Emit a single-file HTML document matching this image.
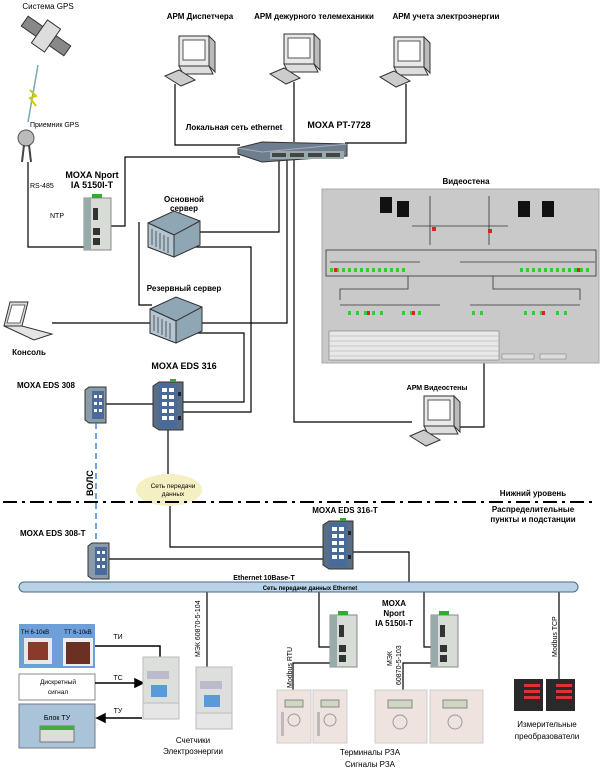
<!DOCTYPE html>
<html><head><meta charset="utf-8"><style>
html,body{margin:0;padding:0;background:#fff}
svg{display:block}
text{font-family:"Liberation Sans",sans-serif;fill:#000}
.b{font-weight:bold}
</style></head><body>
<svg width="600" height="771" viewBox="0 0 600 771" xmlns="http://www.w3.org/2000/svg">
<defs>
<g id="pc">
  <rect x="14" y="0" width="30" height="30" fill="#e8e8e8" stroke="#333"/>
  <rect x="18" y="4" width="22" height="20" fill="#fff" stroke="#555"/>
  <path d="M14 30 L44 30 L48 38 L18 38 Z" fill="#ddd" stroke="#333"/>
  <path d="M44 0 L50 6 L50 36 L44 30 Z" fill="#bbb" stroke="#333"/>
  <path d="M0 40 L14 34 L30 44 L16 50 Z" fill="#ccc" stroke="#333"/>
</g>
<g id="srv">
  <path d="M0 12 L26 0 L52 10 L52 34 L26 46 L0 36 Z" fill="#8fa6b4" stroke="#333"/>
  <path d="M0 12 L26 24 L52 10" fill="none" stroke="#333"/>
  <path d="M26 24 L26 46" stroke="#333"/>
  <path d="M0 12 L26 24 L26 46 L0 36 Z" fill="#b4c6d2" stroke="#333"/>
  <path d="M4 18 v16 M8 20 v16 M12 22 v16 M16 24 v16 M20 26 v16" stroke="#555"/>
</g>
<g id="eds">
  <path d="M0 4 L6 0 L30 0 L30 48 L6 48 L0 44 Z" fill="#5a6d86" stroke="#333"/>
  <rect x="6" y="2" width="18" height="44" fill="#4a6a9a"/>
  <g fill="#fff"><rect x="9" y="6" width="5" height="4"/><rect x="16" y="6" width="5" height="4"/><rect x="9" y="13" width="5" height="4"/><rect x="16" y="13" width="5" height="4"/><rect x="9" y="20" width="5" height="4"/><rect x="16" y="20" width="5" height="4"/><rect x="9" y="27" width="5" height="4"/><rect x="16" y="27" width="5" height="4"/><rect x="9" y="34" width="5" height="4"/><rect x="16" y="34" width="5" height="4"/></g>
  <rect x="25" y="10" width="3" height="4" fill="#222"/><rect x="25" y="34" width="3" height="4" fill="#222"/>
  <rect x="17" y="-3" width="6" height="3" fill="#3a3"/>
</g>
<g id="eds8">
  <path d="M0 3 L4 0 L21 0 L21 36 L4 36 L0 33 Z" fill="#8a9aa8" stroke="#333"/>
  <rect x="7" y="4" width="12" height="28" fill="#4a6a9a"/>
  <g fill="#fff"><rect x="9" y="8" width="3" height="3"/><rect x="14" y="8" width="3" height="3"/><rect x="9" y="15" width="3" height="3"/><rect x="14" y="15" width="3" height="3"/><rect x="9" y="22" width="3" height="3"/><rect x="14" y="22" width="3" height="3"/></g>
</g>
<g id="nport">
  <rect x="0" y="4" width="27" height="52" fill="#d8dcd6" stroke="#888"/>
  <rect x="0" y="4" width="7" height="52" fill="#9aa" />
  <rect x="8" y="0" width="10" height="4" fill="#3a3"/>
  <rect x="9" y="14" width="5" height="12" fill="#333"/>
  <rect x="9" y="34" width="7" height="7" fill="#333"/><rect x="9" y="44" width="7" height="7" fill="#333"/>
</g>
<g id="relay">
  <rect x="0" y="0" width="34" height="53" fill="#efe3e0" stroke="#ccc"/>
  <rect x="8" y="10" width="18" height="7" fill="#cfd7c0" stroke="#888"/>
  <circle cx="17" cy="30" r="6" fill="none" stroke="#999"/>
  <rect x="4" y="22" width="3" height="24" fill="#bbb"/>
</g>
<g id="meter">
  <rect x="0" y="0" width="36" height="62" fill="#dcdfdc" stroke="#bbb"/>
  <rect x="4" y="14" width="22" height="8" fill="#bbc"/>
  <rect x="8" y="28" width="16" height="12" fill="#5a9ad8"/>
  <rect x="0" y="46" width="36" height="16" fill="#e6e6e6" stroke="#bbb"/>
</g>
</defs>

<!-- top labels -->
<text x="48" y="9" font-size="8" text-anchor="middle">Система GPS</text>
<text x="200" y="19" font-size="8" class="b" text-anchor="middle">АРМ Диспетчера</text>
<text x="314" y="19" font-size="8" class="b" text-anchor="middle">АРМ дежурного телемеханики</text>
<text x="446" y="19" font-size="8" class="b" text-anchor="middle">АРМ учета электроэнергии</text>

<!-- satellite -->
<g transform="translate(46,36) rotate(35)">
  <rect x="-26" y="-6" width="52" height="12" fill="#888" stroke="#333"/>
  <rect x="-8" y="-14" width="16" height="28" fill="#ddd" stroke="#333"/>
</g>
<line x1="38" y1="65" x2="28" y2="122" stroke="#7aa" stroke-width="1.5"/>
<path d="M30 90 L36 96 L30 98 L36 106" stroke="#cc0" stroke-width="2" fill="none"/>
<text x="30" y="127" font-size="7">Приемник GPS</text>
<circle cx="26" cy="138" r="8" fill="#bbb" stroke="#555"/>
<line x1="24" y1="145" x2="22" y2="162" stroke="#444" stroke-width="2"/><line x1="29" y1="145" x2="31" y2="162" stroke="#444" stroke-width="2"/>
<text x="30" y="188" font-size="7" fill="#333">RS-485</text>
<text x="50" y="218" font-size="7" fill="#333">NTP</text>
<text x="92" y="178" font-size="9" class="b" text-anchor="middle">MOXA Nport</text>
<text x="92" y="188" font-size="9" class="b" text-anchor="middle">IA 5150I-T</text>

<!-- computers -->
<use href="#pc" x="165" y="36"/>
<use href="#pc" x="270" y="34"/>
<use href="#pc" x="380" y="37"/>

<g stroke="#000" stroke-width="1.2" fill="none">
  <polyline points="175,84 175,145 240,145"/>
  <polyline points="294,82 294,142"/>
  <polyline points="406,84 406,143 345,143"/>
  <polyline points="28,162 28,247 88,247"/>
  <polyline points="104,226 125,226 125,157 240,157"/>
  <polyline points="200,232 279,232 279,160"/>
  <polyline points="190,247 251,247 251,412 183,412"/>
  <polyline points="139,222 139,305 152,305"/>
  <polyline points="200,323 287,323 287,160"/>
  <polyline points="192,333 244,333 244,402 183,402"/>
  <polyline points="52,323 150,323"/>
  <polyline points="294,160 294,422 412,422"/>
  <polyline points="484,363 484,427 460,427"/>
  <polyline points="100,404 160,404"/>
  <polyline points="168,430 168,474"/>
  <polyline points="170,505 170,547 325,547"/>
  <polyline points="100,559 325,559"/>
  <polyline points="353,552 409,552 409,582"/>
  <polyline points="207,592 207,667"/>
  <polyline points="319,592 319,647 333,647"/>
  <polyline points="424,592 424,647 435,647"/>
  <polyline points="333,663 293,663 293,690"/>
  <polyline points="435,663 403,663 403,690"/>
  <polyline points="559,592 559,680"/>
</g>

<!-- switch PT-7728 -->
<text x="234" y="130" font-size="8" class="b" text-anchor="middle">Локальная сеть ethernet</text>
<text x="339" y="128" font-size="9" class="b" text-anchor="middle">MOXA PT-7728</text>
<path d="M238 148 L262 142 L347 144 L347 156 L262 162 L238 154 Z" fill="#6e7e8e" stroke="#333"/>
<path d="M238 148 L262 152 L347 144" fill="none" stroke="#aab"/>
<rect x="270" y="151" width="74" height="8" fill="#9aa" />
<g fill="#444"><rect x="272" y="153" width="14" height="4"/><rect x="290" y="153" width="14" height="4"/><rect x="308" y="153" width="14" height="4"/><rect x="326" y="153" width="14" height="4"/></g>

<use href="#nport" x="84" y="194"/>

<!-- servers -->
<text x="184" y="202" font-size="8" class="b" text-anchor="middle">Основной</text>
<text x="184" y="211" font-size="8" class="b" text-anchor="middle">сервер</text>
<use href="#srv" x="148" y="211"/>
<text x="184" y="291" font-size="8" class="b" text-anchor="middle">Резервный сервер</text>
<use href="#srv" x="150" y="297"/>

<!-- laptop -->
<path d="M10 302 L28 302 L22 326 L4 326 Z" fill="#ddd" stroke="#333"/>
<path d="M12 305 L25 305 L20 323 L7 323 Z" fill="#fff" stroke="#666"/>
<path d="M4 326 L22 326 L52 334 L34 340 Z" fill="#e4e4e4" stroke="#333"/>
<text x="29" y="355" font-size="8" class="b" text-anchor="middle">Консоль</text>

<!-- video wall -->
<text x="466" y="184" font-size="8" class="b" text-anchor="middle">Видеостена</text>
<rect x="322" y="189" width="277" height="174" fill="#c9c9c9" stroke="#aaa"/>
<g stroke="#333" stroke-width="0.8" fill="none">
  <line x1="430" y1="196" x2="430" y2="245"/><line x1="489" y1="196" x2="489" y2="245"/>
  <line x1="412" y1="226" x2="508" y2="226"/>
  <rect x="326" y="250" width="270" height="26"/>
  <line x1="330" y1="262" x2="420" y2="262"/><line x1="460" y1="262" x2="595" y2="262"/>
  <line x1="340" y1="305" x2="440" y2="305"/><line x1="470" y1="305" x2="580" y2="305"/>
  <polyline points="408,276 408,289 340,289 340,300"/><polyline points="493,276 493,289 580,289 580,300"/>
</g>
<g fill="#111"><rect x="380" y="197" width="12" height="16"/><rect x="397" y="201" width="12" height="16"/><rect x="518" y="201" width="12" height="16"/><rect x="542" y="201" width="12" height="16"/></g>
<g fill="#4c4">
  <rect x="328" y="270" width="264" height="4" fill="none"/>
</g>
<g fill="#3c3">
  <rect x="330" y="268" width="3" height="4"/><rect x="336" y="268" width="3" height="4"/><rect x="342" y="268" width="3" height="4"/><rect x="348" y="268" width="3" height="4"/><rect x="354" y="268" width="3" height="4"/><rect x="360" y="268" width="3" height="4"/><rect x="366" y="268" width="3" height="4"/><rect x="372" y="268" width="3" height="4"/><rect x="378" y="268" width="3" height="4"/><rect x="384" y="268" width="3" height="4"/><rect x="390" y="268" width="3" height="4"/><rect x="396" y="268" width="3" height="4"/><rect x="402" y="268" width="3" height="4"/>
  <rect x="520" y="268" width="3" height="4"/><rect x="526" y="268" width="3" height="4"/><rect x="532" y="268" width="3" height="4"/><rect x="538" y="268" width="3" height="4"/><rect x="544" y="268" width="3" height="4"/><rect x="550" y="268" width="3" height="4"/><rect x="556" y="268" width="3" height="4"/><rect x="562" y="268" width="3" height="4"/><rect x="568" y="268" width="3" height="4"/><rect x="574" y="268" width="3" height="4"/><rect x="580" y="268" width="3" height="4"/><rect x="586" y="268" width="3" height="4"/>
  <rect x="348" y="311" width="3" height="4"/><rect x="356" y="311" width="3" height="4"/><rect x="364" y="311" width="3" height="4"/><rect x="372" y="311" width="3" height="4"/><rect x="380" y="311" width="3" height="4"/><rect x="402" y="311" width="3" height="4"/><rect x="410" y="311" width="3" height="4"/><rect x="418" y="311" width="3" height="4"/>
  <rect x="472" y="311" width="3" height="4"/><rect x="480" y="311" width="3" height="4"/><rect x="524" y="311" width="3" height="4"/><rect x="532" y="311" width="3" height="4"/><rect x="540" y="311" width="3" height="4"/><rect x="556" y="311" width="3" height="4"/><rect x="564" y="311" width="3" height="4"/>
</g>
<g fill="#d22"><rect x="334" y="268" width="3" height="4"/><rect x="577" y="268" width="3" height="4"/><rect x="367" y="311" width="3" height="4"/><rect x="412" y="311" width="3" height="4"/><rect x="542" y="311" width="3" height="4"/><rect x="432" y="227" width="4" height="4"/><rect x="488" y="229" width="4" height="4"/></g>
<rect x="329" y="331" width="170" height="29" fill="#e8e8e8" stroke="#777" stroke-width="0.6"/>
<g stroke="#aaa" stroke-width="0.5"><line x1="329" y1="336" x2="499" y2="336"/><line x1="329" y1="341" x2="499" y2="341"/><line x1="329" y1="346" x2="499" y2="346"/><line x1="329" y1="351" x2="499" y2="351"/><line x1="329" y1="356" x2="499" y2="356"/></g>
<rect x="502" y="354" width="32" height="5" fill="#ddd" stroke="#777" stroke-width="0.5"/>
<rect x="540" y="354" width="26" height="5" fill="#ddd" stroke="#777" stroke-width="0.5"/>

<text x="437" y="390" font-size="7" class="b" text-anchor="middle">АРМ Видеостены</text>
<use href="#pc" x="410" y="396"/>

<text x="184" y="369" font-size="9" class="b" text-anchor="middle">MOXA EDS 316</text>
<text x="17" y="388" font-size="8" class="b">MOXA EDS 308</text>
<use href="#eds8" x="85" y="387"/>
<use href="#eds" x="153" y="382"/>

<!-- VOLS -->
<line x1="96" y1="423" x2="96" y2="542" stroke="#3a8ad8" stroke-width="1.5" stroke-dasharray="6,4"/>
<text x="0" y="0" font-size="9" class="b" transform="translate(93,496) rotate(-90)">ВОЛС</text>

<ellipse cx="169" cy="490" rx="33" ry="16" fill="#f4f0c4"/>
<text x="173" y="488" font-size="6.5" text-anchor="middle" fill="#333">Сеть передачи</text>
<text x="173" y="496" font-size="6.5" text-anchor="middle" fill="#333">данных</text>

<line x1="3" y1="502" x2="592" y2="502" stroke="#000" stroke-width="2" stroke-dasharray="14,5,3,5"/>
<text x="533" y="496" font-size="8" class="b" text-anchor="middle">Нижний уровень</text>
<text x="533" y="512" font-size="8" class="b" text-anchor="middle">Распределительные</text>
<text x="533" y="522" font-size="8" class="b" text-anchor="middle">пункты и подстанции</text>

<text x="345" y="513" font-size="8" class="b" text-anchor="middle">MOXA EDS 316-T</text>
<use href="#eds" x="323" y="521"/>
<text x="20" y="536" font-size="8" class="b">MOXA EDS 308-T</text>
<use href="#eds8" x="88" y="543"/>

<!-- bus -->
<text x="264" y="580" font-size="7" class="b" text-anchor="middle">Ethernet 10Base-T</text>
<rect x="19" y="582" width="559" height="10" rx="5" fill="#b8d2e8" stroke="#4a6a8a"/>
<text x="310" y="590" font-size="6" class="b" text-anchor="middle">Сеть передачи данных Ethernet</text>

<text x="0" y="0" font-size="7" transform="translate(200,657) rotate(-90)">МЭК 60870-5-104</text>
<text x="394" y="606" font-size="8" class="b" text-anchor="middle">MOXA</text>
<text x="394" y="616" font-size="8" class="b" text-anchor="middle">Nport</text>
<text x="394" y="626" font-size="8" class="b" text-anchor="middle">IA 5150I-T</text>
<use href="#nport" x="330" y="611"/>
<use href="#nport" x="431" y="611"/>
<text x="0" y="0" font-size="7" transform="translate(292,688) rotate(-90)">Modbus RTU</text>
<text x="0" y="0" font-size="7" transform="translate(392,666) rotate(-90)">МЭК</text>
<text x="0" y="0" font-size="7" transform="translate(401,685) rotate(-90)">60870-5-103</text>
<text x="0" y="0" font-size="7" transform="translate(557,657) rotate(-90)">Modbus TCP</text>

<!-- left boxes -->
<rect x="19" y="624" width="76" height="44" fill="#6f9fd8"/>
<text x="35" y="634" font-size="6" fill="#fff" text-anchor="middle">ТН 6-10кВ</text>
<text x="78" y="634" font-size="6" fill="#fff" text-anchor="middle">ТТ 6-10кВ</text>
<rect x="24" y="638" width="28" height="26" fill="#e8e8e8"/><rect x="28" y="642" width="20" height="18" fill="#8a3a2a"/>
<rect x="63" y="638" width="30" height="28" fill="#eee"/><rect x="66" y="642" width="24" height="22" fill="#6a3024"/>
<rect x="19" y="674" width="76" height="26" fill="#fff" stroke="#888"/>
<text x="58" y="684" font-size="6.5" text-anchor="middle">Дискретный</text>
<text x="58" y="694" font-size="6.5" text-anchor="middle">сигнал</text>
<rect x="19" y="704" width="76" height="44" fill="#a9c3d9" stroke="#778"/>
<text x="57" y="720" font-size="7" text-anchor="middle">Блок ТУ</text>
<rect x="40" y="726" width="34" height="16" fill="#ddd" stroke="#777"/><rect x="40" y="726" width="34" height="4" fill="#4a4"/>

<g stroke="#000" stroke-width="1.5" fill="#000">
  <polyline points="95,646 160,646 160,664" fill="none"/><path d="M156 663 L164 663 L160 670 Z"/>
  <line x1="95" y1="683" x2="136" y2="683"/><path d="M135 679 L143 683 L135 687 Z"/>
  <line x1="142" y1="718" x2="104" y2="718"/><path d="M105 714 L97 718 L105 722 Z"/>
</g>
<text x="118" y="639" font-size="7" text-anchor="middle">ТИ</text>
<text x="118" y="680" font-size="7" text-anchor="middle">ТС</text>
<text x="118" y="713" font-size="7" text-anchor="middle">ТУ</text>

<use href="#meter" x="143" y="657"/>
<use href="#meter" x="196" y="667" transform="translate(0,0)"/>
<text x="193" y="743" font-size="8" text-anchor="middle" fill="#333">Счетчики</text>
<text x="193" y="754" font-size="8" text-anchor="middle" fill="#333">Электроэнергии</text>

<use href="#relay" x="277" y="690"/><use href="#relay" x="313" y="690"/>
<use href="#relay" x="375" y="690" transform="scale(1)"/><rect x="375" y="690" width="52" height="53" fill="#efe3e0" stroke="#ccc"/>
<rect x="388" y="700" width="24" height="8" fill="#cfd7c0" stroke="#888"/><circle cx="400" cy="722" r="7" fill="none" stroke="#999"/>
<rect x="430" y="690" width="53" height="53" fill="#efe3e0" stroke="#ccc"/>
<rect x="443" y="700" width="24" height="8" fill="#cfd7c0" stroke="#888"/><circle cx="455" cy="722" r="7" fill="none" stroke="#999"/>
<text x="370" y="755" font-size="8" text-anchor="middle" fill="#333">Терминалы РЗА</text>
<text x="370" y="767" font-size="8" text-anchor="middle" fill="#333">Сигналы РЗА</text>

<rect x="514" y="679" width="29" height="32" fill="#2a2a2a"/><rect x="546" y="679" width="29" height="32" fill="#2a2a2a"/>
<g fill="#d33"><rect x="524" y="684" width="16" height="3"/><rect x="524" y="690" width="16" height="3"/><rect x="524" y="696" width="16" height="3"/><rect x="556" y="684" width="16" height="3"/><rect x="556" y="690" width="16" height="3"/><rect x="556" y="696" width="16" height="3"/></g>
<text x="547" y="727" font-size="8" text-anchor="middle" fill="#333">Измерительные</text>
<text x="547" y="739" font-size="8" text-anchor="middle" fill="#333">преобразователи</text>
</svg>
</body></html>
